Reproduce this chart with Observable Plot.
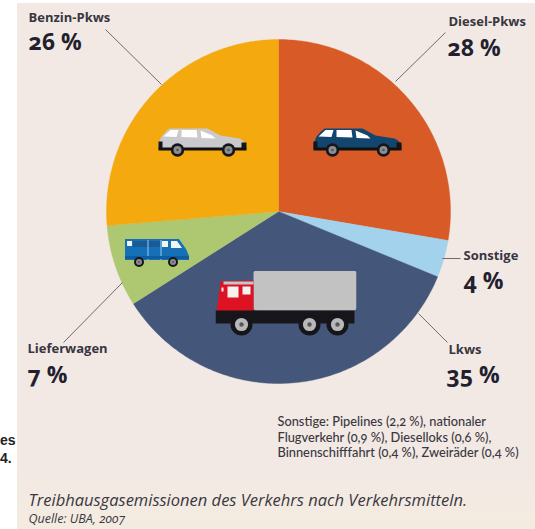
<!DOCTYPE html>
<html><head><meta charset="utf-8">
<script src="https://cdn.jsdelivr.net/npm/d3@7"></script>
<script src="https://cdn.jsdelivr.net/npm/@observablehq/plot@0.6"></script>
<style>
html,body{margin:0;padding:0;background:#fff;overflow:hidden}
#page{position:relative;width:535px;height:529px;overflow:hidden}
#stub{position:absolute;left:0;top:431px;width:17px;font:bold 14px/18px "Liberation Sans",sans-serif;color:#222;white-space:nowrap}
#panel{position:absolute;left:17px;top:3px;right:0;bottom:0;background:linear-gradient(#f2e9e5 0,#f2e9e5 88%,#f4ebe0 100%)}
#chart{position:absolute;left:0;top:0}
svg text{font-variant-numeric:oldstyle-nums}
</style></head><body><div id="page"><div id="stub">es<br>4.</div><div id="panel"></div><div id="chart"></div></div>
<script>
const categories=["Diesel-Pkws","Sonstige","Lkws","Lieferwagen","Benzin-Pkws"];
const printedShares=["28 %","4 %","35 %","7 %","26 %"];
const drawnShares=[27.7,3.5,34.8,7.7,26.3];
const colors=["#d85a26","#a2d2ec","#44567a","#adc870","#f4a90f"];
const shareNote="Sonstige: Pipelines (2,2 %), nationaler\nFlugverkehr (0,9 %), Dieselloks (0,6 %),\nBinnenschifffahrt (0,4 %), Zweiräder (0,4 %)";
const titleText="Treibhausgasemissionen des Verkehrs nach Verkehrsmitteln.";
const sourceText="Quelle: UBA, 2007";

const W=535,H=529,CX=278,CY=211,R=172;
const arcs=d3.pie().sort(null)(drawnShares);
const slices=arcs.flatMap((a,i)=>{
  const n=Math.max(6,Math.ceil((a.endAngle-a.startAngle)*60)),pts=[{category:categories[i],x:0,y:0}];
  for(let k=0;k<=n;k++){const t=a.startAngle+(a.endAngle-a.startAngle)*k/n;pts.push({category:categories[i],x:Math.sin(t),y:Math.cos(t)});}
  pts.push({category:categories[i],x:0,y:0});
  return pts;
});
const uri=s=>"data:image/svg+xml;utf8,"+encodeURIComponent(s);
const wheel=(x,y,r,h="#8b8d92")=>`<circle cx="${x}" cy="${y}" r="${r}" fill="#16161a"/><circle cx="${x}" cy="${y}" r="${r*.6}" fill="${h}"/><circle cx="${x}" cy="${y}" r="${r*.2}" fill="#55575c"/>`;
const car=b=>uri(`<svg xmlns="http://www.w3.org/2000/svg" width="90" height="30" viewBox="0 0 90 30"><path d="M1 16L4 9Q8 4 12 1L50 1L63 8L82 11Q87 13 89 18V21H1Z" fill="${b}"/><path d="M1 20H89V23H1Z" fill="#111"/><path d="M1 14H5V21H1ZM84 15H89V21H84Z" fill="#151515"/><path d="M6 9L13 2.500H21L19 9.500ZM24 9.500V2.500H39L40 10ZM43 3L55 8L58 11L44 10.500Z" fill="#fff"/>${wheel(20,22.500,6.700)}${wheel(71,22.500,6.700)}</svg>`);
const van=uri(`<svg xmlns="http://www.w3.org/2000/svg" width="66" height="30" viewBox="0 0 66 30"><path d="M1 2H55L62 12L65 19V23H1Z" fill="#1570b8"/><path d="M3 4H8V9H3ZM38 4H44V10H38ZM47 4H53L58 11H47Z" fill="#f2f4f4"/><path d="M9 4H36V10H9Z" fill="#1a5a95"/><path d="M24 3V23M37 3V23" stroke="#9dc9ea"/><rect x="1" y="19" width="64" height="3" fill="#0e5da0"/>${wheel(15,25,5)}${wheel(49,25,5)}</svg>`);
const truck=uri(`<svg xmlns="http://www.w3.org/2000/svg" width="141" height="66" viewBox="0 0 141 66"><rect x="38" y="0" width="103" height="40" rx="3" fill="#c3c2c2"/><path d="M1 42L5 11Q7 10 38 10V41Z" fill="#dd1222"/><path d="M6 17H8V21H6ZM12 16H23V27H12ZM27 16H35V24H27Z" fill="#f4f1ee"/><path d="M8 11H38V14H8Z" fill="#c9c4c8"/><rect x="0" y="40" width="139" height="13" fill="#17171b"/>${wheel(26,54,11,"#b8b8b8")}${wheel(94,54,11,"#b8b8b8")}${wheel(122,54,11,"#b8b8b8")}</svg>`);

const label={frameAnchor:"top-left",textAnchor:"start",fontFamily:"Open Sans, sans-serif",lineAnchor:"top"};
const nameStyle={...label,fontSize:13,fontWeight:700,fill:"#38363f"};
const pctStyle={...label,fontSize:23,fontWeight:700,fill:"#231f2e"};
const leader={stroke:"#4c4a50",strokeWidth:.8};
const t=p=>({x:(p[0]-CX)/R,y:(CY-p[1])/R});
const txt=(s,o)=>Plot.text([s],{text:d=>d,...o});
const chart=Plot.plot({
  width:W,height:H,margin:0,
  style:{background:"transparent",maxWidth:"none"},
  x:{domain:[-CX/R,(W-CX)/R],range:[0,W],axis:null},
  y:{domain:[(CY-H)/R,CY/R],range:[H,0],axis:null},
  marks:[
    ...categories.map((c,i)=>Plot.line(slices.filter(d=>d.category===c),{x:"x",y:"y",fill:colors[i],stroke:colors[i],strokeWidth:.4,curve:"linear"})),
    Plot.link([[[161,84],[105,29]],[[395,81],[445,32]],[[442,258],[460,258]],[[418,313],[447,342]],[[122,282],[63,342]]],{x1:d=>t(d[0]).x,y1:d=>t(d[0]).y,x2:d=>t(d[1]).x,y2:d=>t(d[1]).y,...leader}),
    Plot.image([0],{frameAnchor:"top-left",dx:202,dy:142,width:90,height:30,src:()=>car("#c9c9ce")}),
    Plot.image([0],{frameAnchor:"top-left",dx:357,dy:142,width:90,height:30,src:()=>car("#12466f")}),
    Plot.image([0],{frameAnchor:"top-left",dx:156.500,dy:251.500,width:66,height:30,src:()=>van}),
    Plot.image([0],{frameAnchor:"top-left",dx:285.500,dy:303,width:141,height:66,src:()=>truck}),
    txt(categories[4],{...nameStyle,dx:28,dy:12}),
    txt(printedShares[4],{...pctStyle,dx:28,dy:33}),
    txt(categories[0],{...nameStyle,dx:448,dy:16}),
    txt(printedShares[0],{...pctStyle,dx:447,dy:39}),
    txt(categories[1],{...nameStyle,dx:463,dy:250}),
    txt(printedShares[1],{...pctStyle,dx:463,dy:272}),
    txt(categories[3],{...nameStyle,dx:27,dy:343}),
    txt(printedShares[3],{...pctStyle,dx:27,dy:366}),
    txt(categories[2],{...nameStyle,dx:448,dy:344}),
    txt(printedShares[2],{...pctStyle,dx:446,dy:366}),
    txt(shareNote,{...label,fontFamily:"Lato, sans-serif",fontSize:12.800,lineHeight:1.2,fontWeight:500,fill:"#3a3840",dx:277,dy:415}),
    txt(titleText,{...label,fontSize:16.500,fontStyle:"italic",fill:"#3a3840",dx:28,dy:494}),
    txt(sourceText,{...label,fontSize:12.500,fontStyle:"italic",fontWeight:500,fill:"#3a3840",dx:28,dy:514})
  ]
});
document.getElementById("chart").append(chart);
</script></body></html>
